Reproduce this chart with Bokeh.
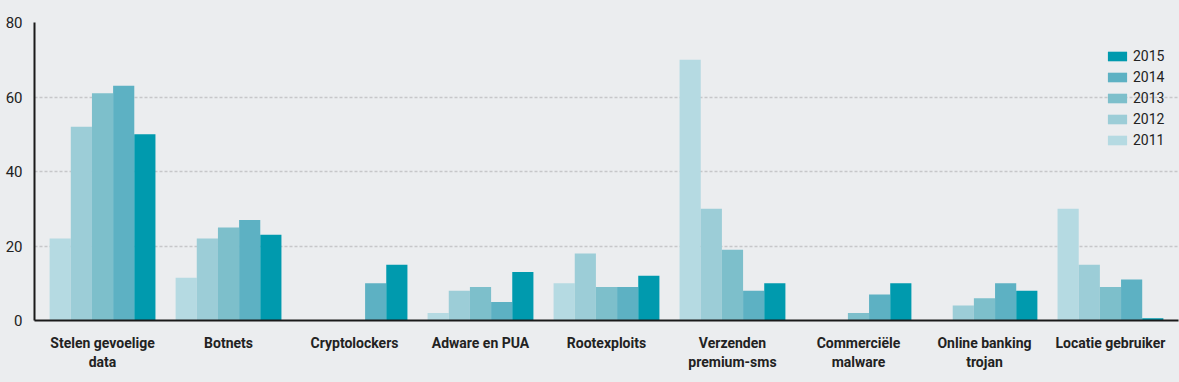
from bokeh.plotting import figure
from bokeh.models import ColumnDataSource, FactorRange, Range1d, Legend, LegendItem, FixedTicker
from bokeh.transform import dodge
from bokeh.embed import file_html
from bokeh.resources import INLINE

categories = ["Stelen gevoelige\ndata", "Botnets", "Cryptolockers", "Adware en PUA",
              "Rootexploits", "Verzenden\npremium-sms", "Commerciële\nmalware",
              "Online banking\ntrojan", "Locatie gebruiker"]
years = ["2011", "2012", "2013", "2014", "2015"]
v2011 = [22, 11.5, 0, 2, 10, 70, 0, 0, 30]
v2012 = [52, 22, 0, 8, 18, 30, 0, 4, 15]
v2013 = [61, 25, 0, 9, 9, 19, 2, 6, 9]
v2014 = [63, 27, 10, 5, 9, 8, 7, 10, 11]
v2015 = [50, 23, 15, 13, 12, 10, 10, 8, 0.6]
y_ticks = [0, 20, 40, 60, 80]
colors = ["#b5dae2", "#9ccdd7", "#7dbfcb", "#5db1c3", "#009aae"]

BG = "#ebedef"
FONT = "Roboto"

source = ColumnDataSource(dict(cat=categories, y2011=v2011, y2012=v2012,
                               y2013=v2013, y2014=v2014, y2015=v2015))

p = figure(width=1179, height=382,
           x_range=FactorRange(factors=categories, range_padding=0.04,
                               range_padding_units="absolute"),
           y_range=Range1d(0, 80), output_backend="svg", toolbar_location=None,
           min_border_left=34, min_border_right=1, min_border_top=22, min_border_bottom=62)
p.background_fill_color = BG
p.border_fill_color = BG
p.outline_line_color = None

bw = 0.168
offsets = [-2 * bw, -bw, 0, bw, 2 * bw]
renderers = []
for yr, off, col in zip(years, offsets, colors):
    r = p.vbar(x=dodge("cat", off, range=p.x_range), top="y" + yr, width=bw,
               source=source, fill_color=col, line_color=None)
    renderers.append(r)

p.xgrid.grid_line_color = None
p.ygrid.grid_line_color = "#c6c7c9"
p.ygrid.grid_line_dash = "3 2"
p.ygrid.grid_line_width = 1.5
p.yaxis.ticker = FixedTicker(ticks=y_ticks)

for ax in (p.xaxis[0], p.yaxis[0]):
    ax.axis_line_color = "#1a1a1a"
    ax.axis_line_width = 2
    ax.major_tick_line_color = None
    ax.minor_tick_line_color = None
    ax.major_label_text_font = FONT
    ax.major_label_text_color = "#222222"

p.yaxis.major_label_text_font_size = "15px"
p.yaxis.major_label_standoff = 6
p.xaxis.major_label_text_font_size = "14px"
p.xaxis.major_label_text_font_style = "bold"
p.xaxis.major_label_standoff = 8

items = [LegendItem(label=yr, renderers=[r]) for yr, r in zip(years, renderers)][::-1]
legend = Legend(items=items, location=(1071, 172), padding=0, margin=0,
                glyph_width=24, glyph_height=12, label_height=12, spacing=5,
                label_standoff=4, label_text_font=FONT, label_text_font_size="14px",
                label_text_color="#222222", border_line_color=None,
                background_fill_alpha=0)
p.add_layout(legend, "center")

html = file_html(p, INLINE)
html = html.replace("<head>", "<head><style>body{background:#ebedef;}</style>", 1)
open("out.html", "w").write(html)
